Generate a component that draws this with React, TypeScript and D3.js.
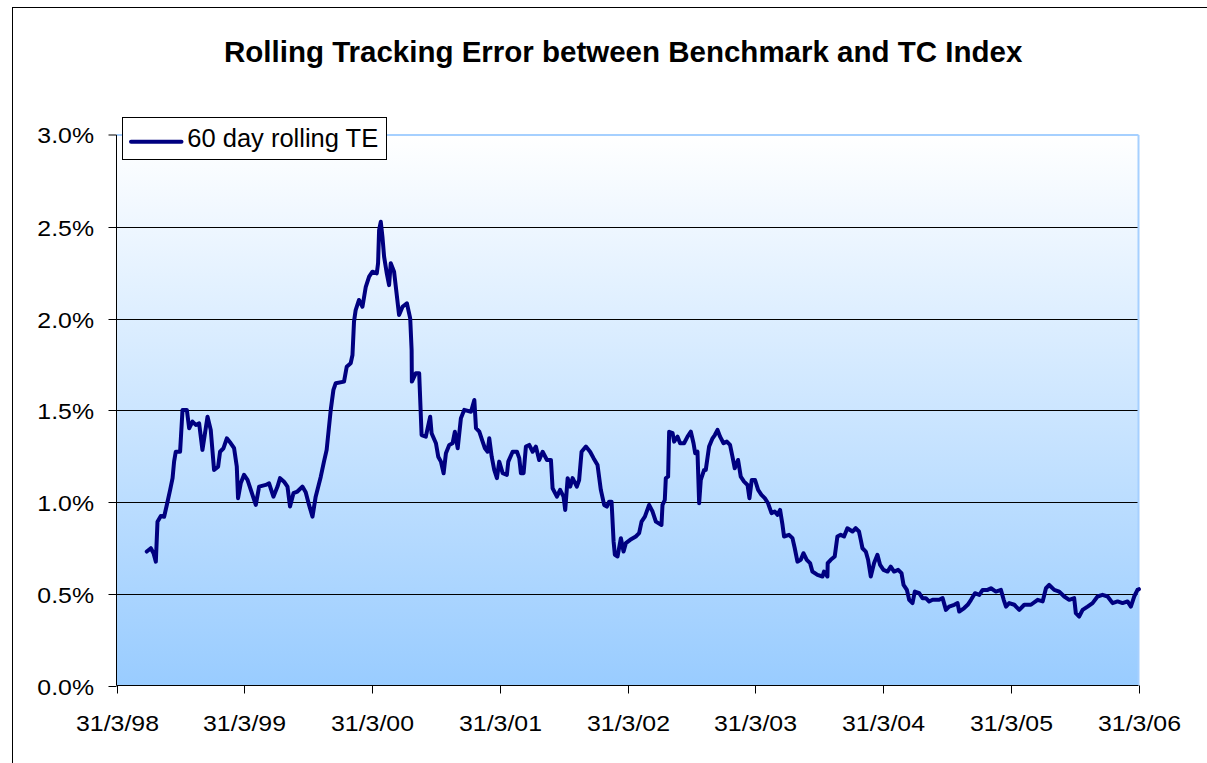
import * as d3 from 'd3';

// x axis ticks (31 March each year)
const tickDates = [
  '1998-03-31', '1999-03-31', '2000-03-31', '2001-03-31', '2002-03-31',
  '2003-03-31', '2004-03-31', '2005-03-31', '2006-03-31',
];
const tickLabels = ['31/3/98', '31/3/99', '31/3/00', '31/3/01', '31/3/02', '31/3/03', '31/3/04', '31/3/05', '31/3/06'];
const yTicks = [0, 0.5, 1, 1.5, 2, 2.5, 3];

const decYears = [
  1998.481, 1998.513, 1998.534, 1998.552, 1998.565, 1998.591, 1998.617, 1998.638, 1998.664, 1998.683,
  1998.695, 1998.708, 1998.742, 1998.761, 1998.795, 1998.813, 1998.839, 1998.865, 1998.891, 1998.917,
  1998.943, 1998.957, 1998.982, 1999.008, 1999.040, 1999.055, 1999.082, 1999.108, 1999.139, 1999.165,
  1999.186, 1999.196, 1999.217, 1999.243, 1999.270, 1999.296, 1999.335, 1999.361, 1999.413, 1999.439,
  1999.473, 1999.505, 1999.525, 1999.556, 1999.583, 1999.603, 1999.630, 1999.661, 1999.700, 1999.726,
  1999.752, 1999.779, 1999.804, 1999.844, 1999.869, 1999.890, 1999.922, 1999.943, 1999.961, 2000.026,
  2000.047, 2000.078, 2000.092, 2000.104, 2000.117, 2000.143, 2000.170, 2000.196, 2000.222, 2000.248,
  2000.282, 2000.292, 2000.300, 2000.313, 2000.326, 2000.339, 2000.360, 2000.378, 2000.391, 2000.417,
  2000.438, 2000.456, 2000.483, 2000.517, 2000.543, 2000.554, 2000.556, 2000.587, 2000.613, 2000.632,
  2000.665, 2000.699, 2000.710, 2000.744, 2000.762, 2000.783, 2000.804, 2000.822, 2000.848, 2000.874,
  2000.892, 2000.914, 2000.939, 2000.965, 2001.018, 2001.044, 2001.057, 2001.083, 2001.109, 2001.127,
  2001.148, 2001.161, 2001.180, 2001.200, 2001.221, 2001.239, 2001.266, 2001.299, 2001.310, 2001.344,
  2001.378, 2001.396, 2001.409, 2001.430, 2001.448, 2001.474, 2001.501, 2001.526, 2001.552, 2001.579,
  2001.613, 2001.644, 2001.657, 2001.691, 2001.716, 2001.743, 2001.756, 2001.775, 2001.795, 2001.814,
  2001.847, 2001.865, 2001.884, 2001.918, 2001.951, 2001.978, 2002.009, 2002.035, 2002.061, 2002.082,
  2002.100, 2002.119, 2002.135, 2002.145, 2002.166, 2002.192, 2002.213, 2002.231, 2002.265, 2002.309,
  2002.335, 2002.354, 2002.380, 2002.413, 2002.440, 2002.466, 2002.510, 2002.518, 2002.536, 2002.544,
  2002.562, 2002.570, 2002.597, 2002.609, 2002.636, 2002.656, 2002.687, 2002.714, 2002.740, 2002.761,
  2002.774, 2002.792, 2002.805, 2002.818, 2002.844, 2002.857, 2002.883, 2002.910, 2002.928, 2002.949,
  2002.969, 2002.996, 2003.022, 2003.047, 2003.066, 2003.084, 2003.110, 2003.131, 2003.157, 2003.184,
  2003.199, 2003.217, 2003.243, 2003.267, 2003.293, 2003.319, 2003.345, 2003.372, 2003.397, 2003.418,
  2003.439, 2003.458, 2003.470, 2003.509, 2003.536, 2003.554, 2003.575, 2003.601, 2003.622, 2003.648,
  2003.674, 2003.692, 2003.732, 2003.771, 2003.783, 2003.810, 2003.812, 2003.836, 2003.867, 2003.888,
  2003.914, 2003.940, 2003.966, 2004.006, 2004.031, 2004.057, 2004.071, 2004.084, 2004.110, 2004.128,
  2004.149, 2004.175, 2004.201, 2004.222, 2004.248, 2004.280, 2004.305, 2004.331, 2004.363, 2004.389,
  2004.405, 2004.431, 2004.449, 2004.475, 2004.493, 2004.527, 2004.553, 2004.579, 2004.605, 2004.632,
  2004.683, 2004.710, 2004.736, 2004.761, 2004.801, 2004.827, 2004.840, 2004.879, 2004.906, 2004.932,
  2004.963, 2004.997, 2005.023, 2005.062, 2005.088, 2005.127, 2005.166, 2005.188, 2005.206, 2005.231,
  2005.271, 2005.310, 2005.349, 2005.401, 2005.454, 2005.493, 2005.519, 2005.544, 2005.584, 2005.623,
  2005.662, 2005.701, 2005.740, 2005.753, 2005.779, 2005.806, 2005.845, 2005.884, 2005.923, 2005.962,
  2006.002, 2006.041, 2006.080, 2006.119, 2006.158, 2006.184, 2006.210, 2006.236, 2006.247,
];

// 60 day rolling tracking error, in %
const teValues = [
  0.730, 0.748, 0.721, 0.675, 0.893, 0.924, 0.920, 0.984, 1.066, 1.130,
  1.220, 1.274, 1.274, 1.502, 1.502, 1.402, 1.438, 1.420, 1.429, 1.284,
  1.402, 1.465, 1.393, 1.175, 1.193, 1.274, 1.293, 1.347, 1.320, 1.293,
  1.193, 1.021, 1.102, 1.148, 1.120, 1.066, 0.984, 1.084, 1.093, 1.102,
  1.029, 1.084, 1.130, 1.111, 1.084, 0.975, 1.048, 1.057, 1.084, 1.053,
  0.984, 0.920, 1.029, 1.138, 1.220, 1.284, 1.502, 1.611, 1.647, 1.656,
  1.737, 1.756, 1.801, 1.983, 2.046, 2.101, 2.064, 2.173, 2.228, 2.255,
  2.246, 2.301, 2.482, 2.527, 2.446, 2.337, 2.246, 2.182, 2.301, 2.255,
  2.128, 2.019, 2.064, 2.083, 2.001, 1.828, 1.656, 1.702, 1.702, 1.365,
  1.356, 1.465, 1.375, 1.320, 1.247, 1.220, 1.157, 1.266, 1.311, 1.320,
  1.383, 1.293, 1.456, 1.502, 1.492, 1.556, 1.402, 1.383, 1.329, 1.293,
  1.274, 1.347, 1.247, 1.175, 1.130, 1.220, 1.157, 1.148, 1.220, 1.274,
  1.274, 1.239, 1.157, 1.157, 1.302, 1.311, 1.274, 1.302, 1.229, 1.274,
  1.229, 1.229, 1.075, 1.029, 1.066, 1.029, 0.957, 1.130, 1.084, 1.130,
  1.084, 1.120, 1.274, 1.302, 1.274, 1.239, 1.202, 1.066, 0.984, 0.975,
  1.002, 1.002, 0.784, 0.712, 0.703, 0.803, 0.730, 0.776, 0.794, 0.812,
  0.830, 0.893, 0.920, 0.984, 0.948, 0.893, 0.875, 0.984, 1.011, 1.130,
  1.138, 1.383, 1.375, 1.329, 1.356, 1.320, 1.320, 1.356, 1.383, 1.320,
  1.266, 1.274, 0.993, 1.120, 1.175, 1.175, 1.302, 1.347, 1.365, 1.393,
  1.356, 1.320, 1.329, 1.311, 1.247, 1.184, 1.229, 1.138, 1.111, 1.093,
  1.021, 1.120, 1.120, 1.066, 1.039, 1.021, 0.993, 0.939, 0.948, 0.930,
  0.957, 0.875, 0.812, 0.821, 0.803, 0.748, 0.675, 0.685, 0.721, 0.685,
  0.667, 0.621, 0.603, 0.594, 0.621, 0.594, 0.667, 0.685, 0.703, 0.812,
  0.821, 0.812, 0.857, 0.839, 0.857, 0.839, 0.794, 0.748, 0.730, 0.685,
  0.594, 0.667, 0.712, 0.657, 0.630, 0.621, 0.648, 0.621, 0.630, 0.612,
  0.548, 0.521, 0.467, 0.449, 0.512, 0.503, 0.476, 0.476, 0.458, 0.467,
  0.467, 0.476, 0.412, 0.430, 0.440, 0.449, 0.403, 0.422, 0.440, 0.467,
  0.503, 0.494, 0.521, 0.521, 0.530, 0.512, 0.521, 0.467, 0.430, 0.449,
  0.440, 0.412, 0.440, 0.440, 0.467, 0.458, 0.530, 0.548, 0.521, 0.512,
  0.485, 0.467, 0.476, 0.394, 0.376, 0.412, 0.430, 0.449, 0.485, 0.494,
  0.485, 0.449, 0.458, 0.449, 0.458, 0.430, 0.485, 0.521, 0.525,
];

const W = 1207;
const H = 763;
const plot = { left: 116.5, right: 1138.5, top: 135, bottom: 685.5 };
const font = "'Liberation Sans', Arial, sans-serif";

const parseDay = d3.utcParse('%Y-%m-%d');

function fromDecimalYear(t: number) {
  const y = Math.floor(t);
  const a = Date.UTC(y, 0, 1);
  const b = Date.UTC(y + 1, 0, 1);
  return new Date(a + (t - y) * (b - a));
}

export default function App() {
  const ticks = tickDates.map((d) => parseDay(d) as Date);

  const x = d3.scaleUtc()
    .domain([ticks[0], ticks[ticks.length - 1]])
    .range([plot.left, plot.right]);
  const y = d3.scaleLinear().domain([0, 3]).range([plot.bottom, plot.top]);

  const points = decYears.map((t, i) => ({ date: fromDecimalYear(t), value: teValues[i] }));
  const line = d3.line<{ date: Date; value: number }>()
    .x((d) => x(d.date))
    .y((d) => y(d.value));

  const fmt = (v: number) => d3.format('.1f')(v) + '%';

  return (
    <svg width={W} height={H} style={{ position: 'absolute', left: 0, top: 0, background: '#fff' }}>
      <defs>
        <linearGradient id="plotBg" x1="0" y1="0" x2="0" y2="1">
          <stop offset="0%" stopColor="#ffffff" />
          <stop offset="100%" stopColor="#99ccff" />
        </linearGradient>
      </defs>

      {/* chart frame, cut off at right/bottom like the source */}
      <rect x={12.5} y={7.5} width={1400} height={1000} fill="none" stroke="#000" strokeWidth={1} />

      <text x={224} y={61.7} fontFamily={font} fontWeight="bold" fontSize={29.5} fill="#000">
        Rolling Tracking Error between Benchmark and TC Index
      </text>

      <rect x={plot.left} y={plot.top} width={plot.right - plot.left} height={plot.bottom - plot.top} fill="url(#plotBg)" />

      {yTicks.filter((v) => v > 0 && v < 3).map((v) => (
        <line key={v} x1={plot.left} x2={plot.right} y1={Math.round(y(v)) + 0.5} y2={Math.round(y(v)) + 0.5} stroke="#000" strokeWidth={1} />
      ))}

      {/* plot border top/right */}
      <line x1={plot.left} x2={plot.right} y1={plot.top} y2={plot.top} stroke="#a6d0ff" strokeWidth={2} />
      <line x1={plot.right} x2={plot.right} y1={plot.top} y2={plot.bottom} stroke="#a6d0ff" strokeWidth={2} />

      {/* y axis */}
      <line x1={plot.left} x2={plot.left} y1={plot.top} y2={plot.bottom} stroke="#000" strokeWidth={1} />
      {yTicks.map((v) => {
        const yy = v === 3 ? plot.top : Math.round(y(v)) + 0.5;
        return (
          <g key={v}>
            <line x1={plot.left - 8} x2={plot.left} y1={yy} y2={yy} stroke="#000" strokeWidth={1} />
            <text
              transform={`translate(94, ${yy + 8}) scale(1.13, 1)`}
              textAnchor="end"
              fontFamily={font}
              fontSize={22}
              fill="#000"
            >
              {fmt(v)}
            </text>
          </g>
        );
      })}

      {/* x axis */}
      <line x1={plot.left} x2={plot.right} y1={plot.bottom} y2={plot.bottom} stroke="#000" strokeWidth={1} />
      {ticks.map((d, i) => {
        const xx = Math.round(x(d)) + 0.5;
        return (
          <g key={i}>
            <line x1={xx} x2={xx} y1={plot.bottom} y2={plot.bottom + 8} stroke="#000" strokeWidth={1} />
            <text
              transform={`translate(${xx}, 730.7) scale(1.13, 1)`}
              textAnchor="middle"
              fontFamily={font}
              fontSize={22}
              fill="#000"
            >
              {tickLabels[i]}
            </text>
          </g>
        );
      })}

      <path d={line(points) || ''} fill="none" stroke="#000080" strokeWidth={4} strokeLinejoin="round" strokeLinecap="round" />

      {/* legend */}
      <rect x={122.5} y={117.5} width={264} height={42} fill="#fff" stroke="#000" strokeWidth={1} />
      <line x1={131} x2={181.5} y1={141.7} y2={141.7} stroke="#000080" strokeWidth={4} strokeLinecap="round" />
      <text x={187.3} y={147.3} fontFamily={font} fontSize={25.5} fill="#000">60 day rolling TE</text>
    </svg>
  );
}
